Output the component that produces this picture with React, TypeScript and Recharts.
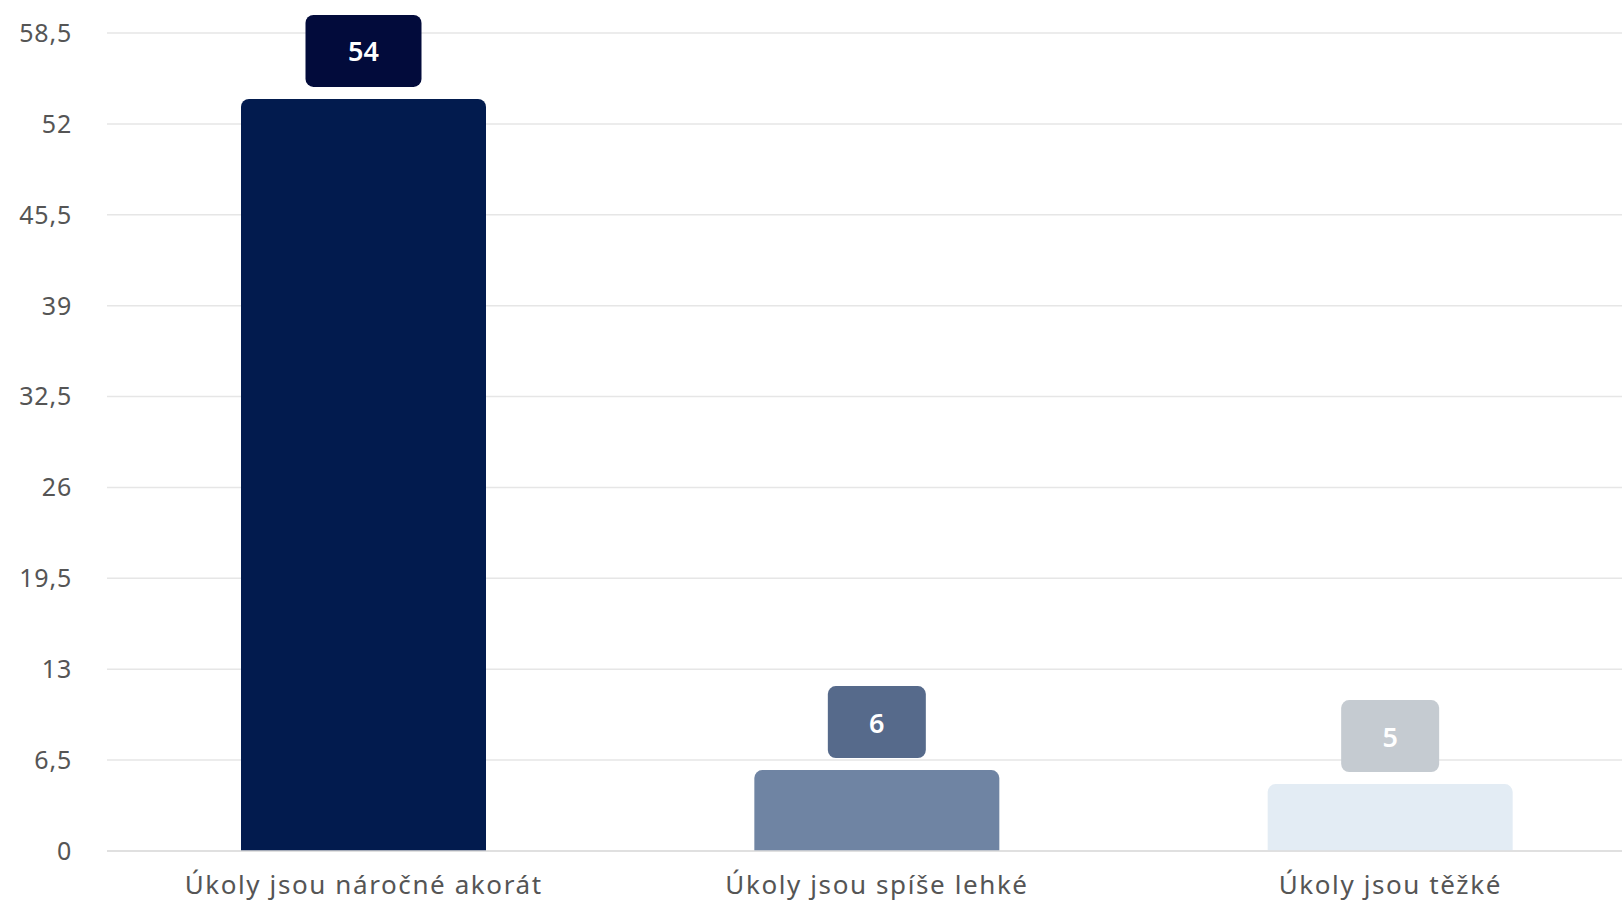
import { BarChart, Bar, XAxis, YAxis, CartesianGrid, Cell, LabelList, Rectangle } from "recharts";

const categories = ["Úkoly jsou náročné akorát", "Úkoly jsou spíše lehké", "Úkoly jsou těžké"];
const counts = [54, 6, 5];
const barColors = ["#021b4e", "#6f84a3", "#e3ecf4"];
const badgeColors = ["#020b3b", "#566a8b", "#c5cbd1"];
const yTicks = [0, 6.5, 13, 19.5, 26, 32.5, 39, 45.5, 52, 58.5];

const data = categories.map((name, i) => ({ name, value: counts[i] }));

const FONT = "'Noto Sans', sans-serif";
// bars in the original sit a few px below their nominal top
const TOP_INSET = 3;

function formatTick(v: number) {
  return String(v).replace(".", ",");
}

function InsetBar(props: any) {
  return <Rectangle {...props} y={props.y + TOP_INSET} height={Math.max(0, props.height - TOP_INSET)} />;
}

function Badge(props: any) {
  const { x, y, width, value, index } = props;
  const text = String(value);
  const w = 80 + text.length * 18;
  const h = 72;
  const cx = x + width / 2;
  const top = y + TOP_INSET - 12 - h;
  return (
    <g>
      <rect x={cx - w / 2} y={top} width={w} height={h} rx={8} ry={8} fill={badgeColors[index]} />
      <text
        x={cx}
        y={top + h / 2}
        textAnchor="middle"
        dominantBaseline="central"
        fill="#ffffff"
        fontSize={27}
        fontWeight={600}
        fontFamily={FONT}
      >
        {text}
      </text>
    </g>
  );
}

export default function App() {
  return (
    <div
      style={{
        position: "fixed",
        left: 0,
        top: 0,
        width: 1622,
        height: 905,
        overflow: "hidden",
        background: "#fff",
      }}
    >
      <BarChart
        width={1647}
        height={905}
        data={data}
        margin={{ top: 33, right: 0, left: 0, bottom: 0 }}
      >
        <CartesianGrid vertical={false} stroke="#e6e6e6" strokeWidth={1.5} />
        <XAxis
          dataKey="name"
          height={54}
          tickLine={false}
          tickSize={0}
          tickMargin={25}
          axisLine={{ stroke: "#dcdcdc", strokeWidth: 1.5 }}
          tick={{ fontSize: 26, fill: "#555", fontFamily: FONT, letterSpacing: 1.6 }}
          interval={0}
        />
        <YAxis
          width={107}
          domain={[0, 58.5]}
          ticks={yTicks}
          tickFormatter={formatTick}
          tickLine={false}
          tickSize={0}
          tickMargin={35}
          axisLine={false}
          tick={{ fontSize: 25, fill: "#555", fontFamily: FONT, letterSpacing: 0.8 }}
          interval={0}
        />
        <Bar
          dataKey="value"
          barSize={245}
          radius={[8, 8, 0, 0]}
          shape={<InsetBar />}
          isAnimationActive={false}
        >
          {data.map((d, i) => (
            <Cell key={d.name} fill={barColors[i]} />
          ))}
          <LabelList dataKey="value" content={<Badge />} />
        </Bar>
      </BarChart>
    </div>
  );
}
